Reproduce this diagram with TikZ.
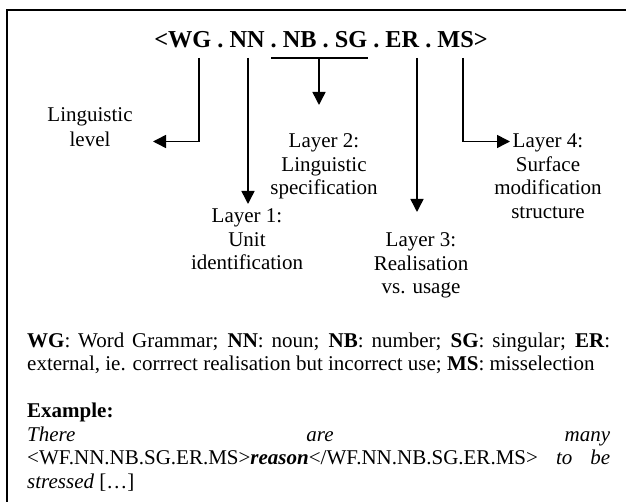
\documentclass[tikz,border=0pt]{standalone}
\usepackage{fontspec}
\setmainfont{Liberation Serif}
\usetikzlibrary{arrows.meta}
\begin{document}
\begin{tikzpicture}[x=1pt,y=-1pt,
  lbl/.style={anchor=base, inner sep=0pt, font=\fontsize{21}{23.5}\selectfont},
  para/.style={anchor=base west, inner sep=0pt, font=\fontsize{21}{23.5}\selectfont},
  ttl/.style={anchor=base, inner sep=0pt, font=\fontsize{24.3}{28}\selectfont\bfseries},
  conn/.style={line width=1.5pt},
  arr/.style={line width=1.5pt, -{Triangle[length=13pt,width=13pt]}},
  framel/.style={line width=2pt}]
\useasboundingbox (0,0) rectangle (626,502);
% frame
\coordinate (fa) at (7,502);
\coordinate (fb) at (7,10.5);
\coordinate (fc) at (626,10.5);
\draw[framel] (fa) -- (fb) -- (fc);
% title
\node[ttl] (title) at (321,48) {<WG . NN . NB . SG . ER . MS>};
% connector coordinates
\coordinate (wgTop) at (199,58);
\coordinate (wgCorner) at (199,141.5);
\coordinate (wgEnd) at (153,141.5);
\coordinate (nnTop) at (248,58);
\coordinate (nnEnd) at (248,204);
\coordinate (ulL) at (271,58);
\coordinate (ulR) at (368,58);
\coordinate (nbTop) at (319,58);
\coordinate (nbEnd) at (319,105);
\coordinate (erTop) at (417,58);
\coordinate (erEnd) at (417,212);
\coordinate (msTop) at (463,58);
\coordinate (msCorner) at (463,141.5);
\coordinate (msEnd) at (510,141.5);
% labels
\node[lbl] (ll1) at (90,122) {Linguistic};
\node[lbl] (ll2) at (90,146.5) {level};
\node[lbl] (l2a) at (324,148) {Layer 2:};
\node[lbl] (l2b) at (324,171.5) {Linguistic};
\node[lbl] (l2c) at (324,195) {specification};
\node[lbl] (l4a) at (548,148) {Layer 4:};
\node[lbl] (l4b) at (548,171.5) {Surface};
\node[lbl] (l4c) at (548,195) {modification};
\node[lbl] (l4d) at (548,218.5) {structure};
\node[lbl] (l1a) at (247,223) {Layer 1:};
\node[lbl] (l1b) at (247,246.5) {Unit};
\node[lbl] (l1c) at (247,270) {identification};
\node[lbl] (l3a) at (421,247) {Layer 3:};
\node[lbl] (l3b) at (421,270.5) {Realisation};
\node[lbl] (l3c) at (421,294) {vs. usage};
% connectors
\draw[arr] (wgTop) -- (wgCorner) -- (wgEnd);
\draw[arr] (nnTop) -- (nnEnd);
\draw[conn] (ulL) -- (ulR);
\draw[arr] (nbTop) -- (nbEnd);
\draw[arr] (erTop) -- (erEnd);
\draw[arr] (msTop) -- (msCorner) -- (msEnd);
% paragraph
\node[para] (p1) at (27,347) {\makebox[583pt][s]{\textbf{WG}: Word Grammar; \textbf{NN}: noun; \textbf{NB}: number; \textbf{SG}: singular; \textbf{ER}:}};
\node[para] (p2) at (27,370.5) {external, ie. corrrect realisation but incorrect use; \textbf{MS}: misselection};
\node[para] (p3) at (27,417.5) {\textbf{Example:}};
\node[para] (p4) at (27,441) {\makebox[583pt][s]{\textit{There} \textit{are} \textit{many}}};
\node[para] (p5) at (27,464.5) {\makebox[583pt][s]{<WF.NN.NB.SG.ER.MS>\textbf{\textit{reason}}</WF.NN.NB.SG.ER.MS> \textit{to} \textit{be}}};
\node[para] (p6) at (27,488) {\textit{stressed} […]};
\end{tikzpicture}
\end{document}
